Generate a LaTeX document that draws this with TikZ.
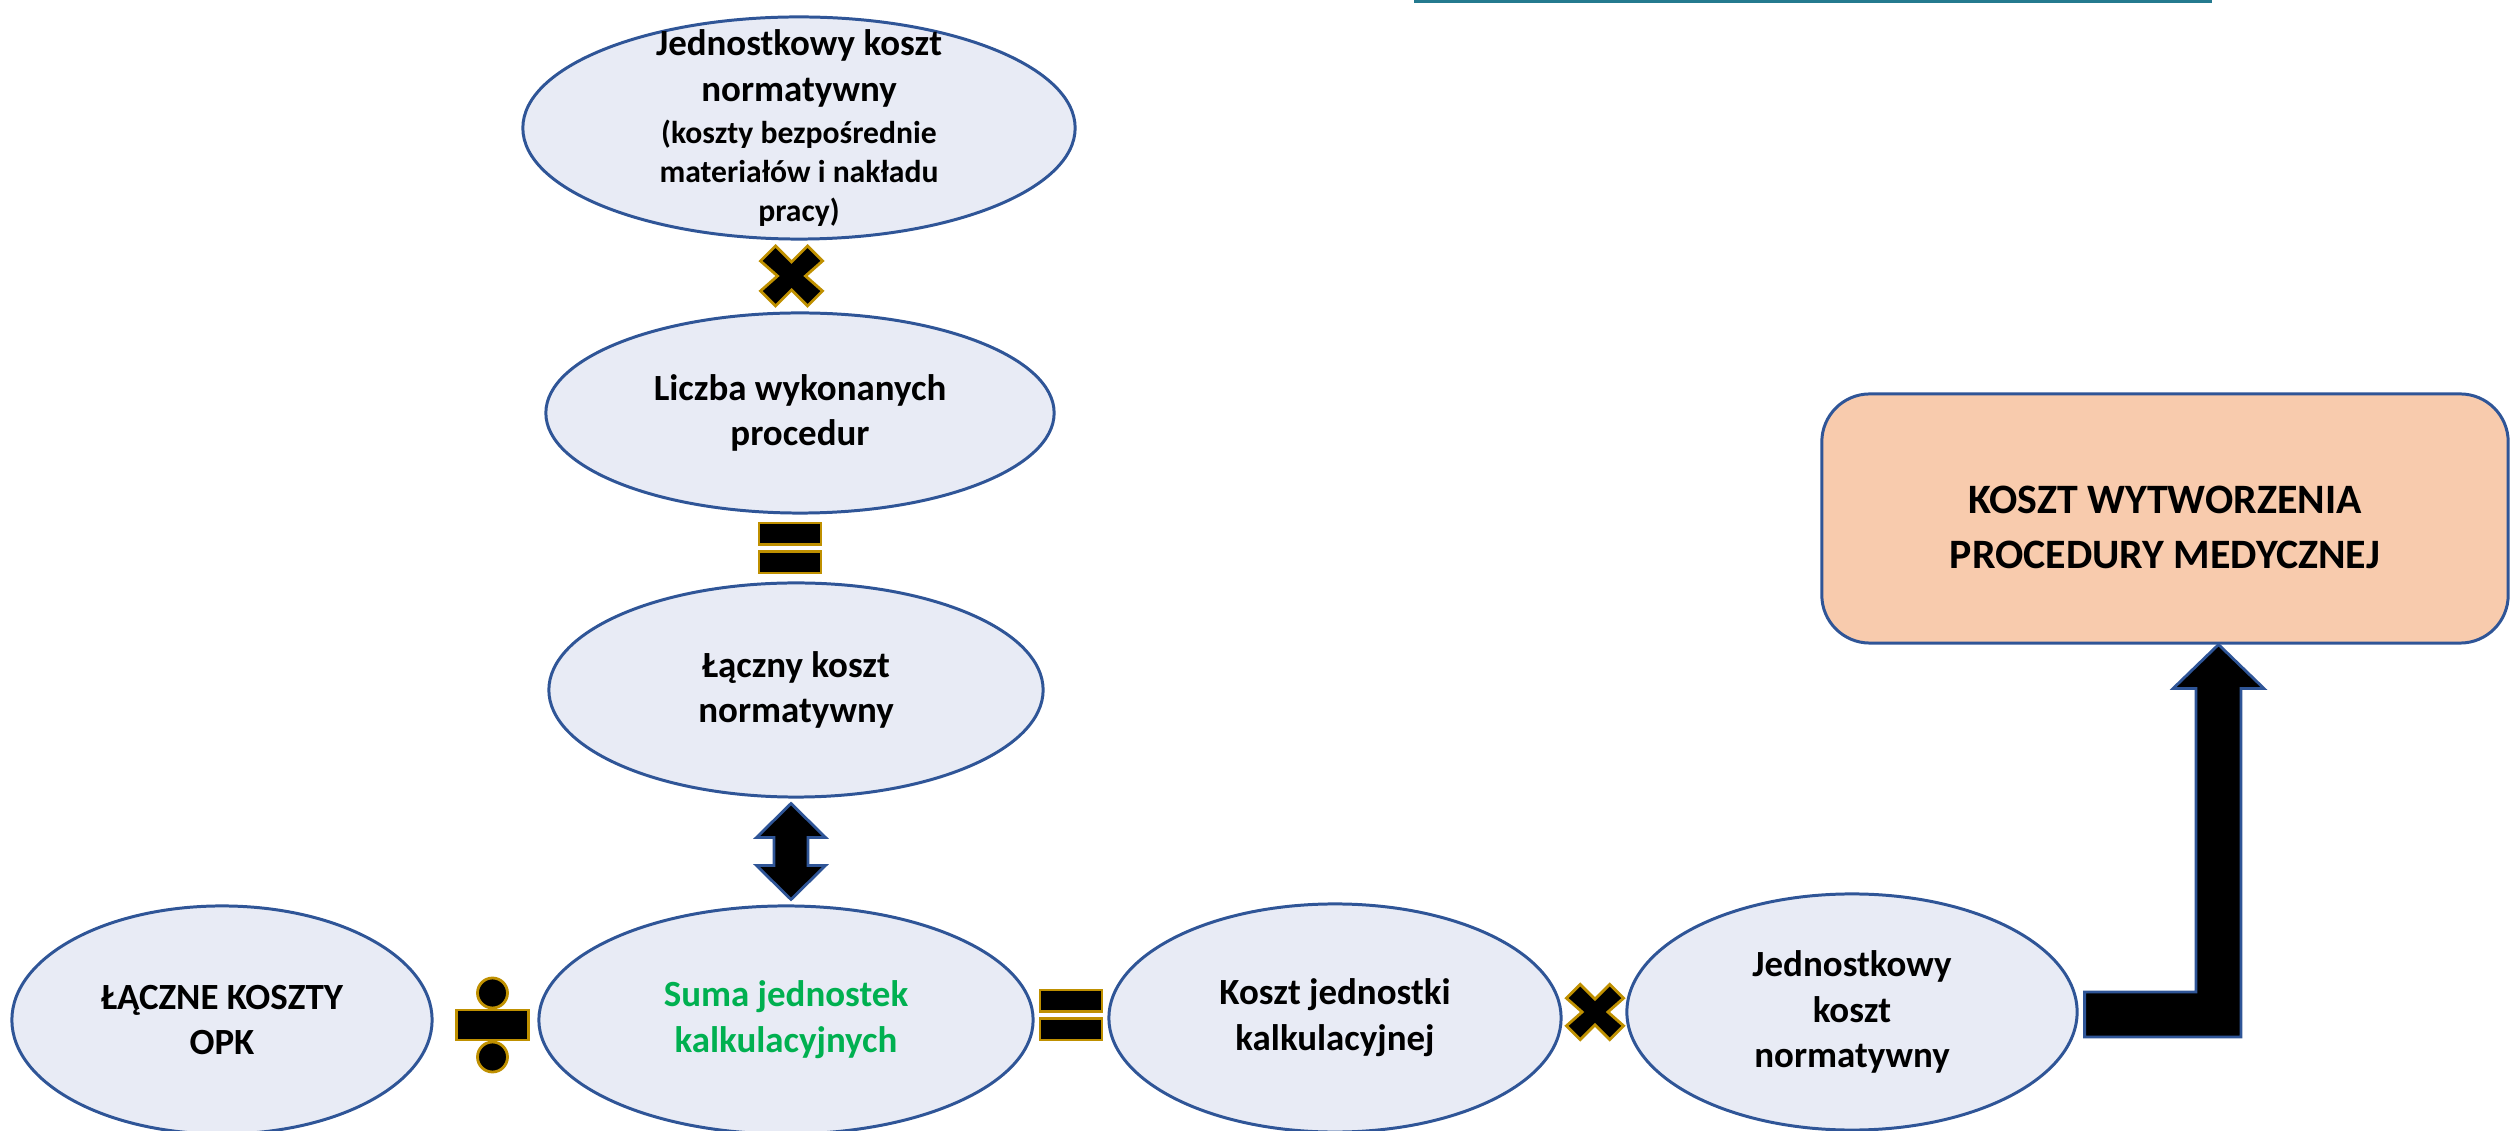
\documentclass[tikz,border=0pt]{standalone}
\usepackage{fontspec}
\setmainfont{Carlito}
\usetikzlibrary{shapes.geometric,calc}

\definecolor{ovalfill}{RGB}{232,235,245}
\definecolor{ovalline}{RGB}{47,85,151}
\definecolor{resultfill}{RGB}{248,203,173}
\definecolor{opgold}{RGB}{191,144,0}
\definecolor{sumgreen}{RGB}{0,176,80}
\definecolor{linkteal}{RGB}{36,122,143}

\newcommand\parenfont{\fontsize{9}{11}\selectfont}

\tikzset{
  oval/.style={ellipse, draw=ovalline, line width=0.85pt, fill=ovalfill,
    inner sep=-1.5cm, align=center, font=\fontsize{10.5}{13}\selectfont\bfseries},
  resultbox/.style={rectangle, rounded corners=0.48cm, draw=ovalline,
    line width=0.85pt, fill=resultfill, inner sep=0pt},
  resultlabel/.style={align=center, inner sep=0pt,
    font=\fontsize{11.9}{15.5}\selectfont\bfseries},
  opsign/.style={fill=black, draw=opgold, line width=0.8pt, line join=miter},
  blockarrow/.style={fill=black, draw=ovalline, line width=0.8pt, line join=miter},
  timessign/.pic={
    \path[opsign] (0,-14) -- (16,-30) -- (31,-15) -- (14,0) -- (31,15) -- (16,30)
      -- (0,14) -- (-16,30) -- (-31,15) -- (-14,0) -- (-31,-15) -- (-16,-30) -- cycle;
  },
  equalsign/.pic={
    \path[opsign] (-31,-25) rectangle (31,-3.5);
    \path[opsign] (-31,3.5) rectangle (31,25);
  },
  dividesign/.pic={
    \path[opsign] (-36,-15) rectangle (36,15);
    \path[opsign] (0,-32) circle (15);
    \path[opsign] (0,32) circle (15);
  },
  updownarrow/.pic={
    \path[blockarrow] (0,-48) -- (34.5,-14) -- (17,-14) -- (17,14) -- (34.5,14)
      -- (0,48) -- (-34.5,14) -- (-17,14) -- (-17,-14) -- (-34.5,-14) -- cycle;
  },
}

\begin{document}
\begin{tikzpicture}[x=0.01cm,y=-0.01cm]
\useasboundingbox (0,0) rectangle (2511,1131);

% underline of a link at the top edge
\fill[linkteal] (1414,0) rectangle (2212,3);

% left column
\node[oval, minimum width=5.52cm, minimum height=2.22cm] (unitcost) at (799,128)
  {Jednostkowy koszt\\normatywny\\[-1pt]{\parenfont (koszty bezpośrednie}\\[-2pt]{\parenfont materiałów i nakładu}\\[-2pt]{\parenfont pracy)}};
\node[oval, minimum width=5.08cm, minimum height=2.00cm] (count) at (800,413)
  {Liczba wykonanych\\procedur};
\node[oval, minimum width=4.94cm, minimum height=2.14cm] (totalnorm) at (796,690)
  {Łączny koszt\\normatywny};

% bottom row
\node[oval, minimum width=4.20cm, minimum height=2.28cm] (opk) at (222,1020)
  {ŁĄCZNE KOSZTY\\OPK};
\node[oval, minimum width=4.94cm, minimum height=2.28cm, text=sumgreen] (sum) at (786,1020)
  {Suma jednostek\\kalkulacyjnych};
\node[oval, minimum width=4.52cm, minimum height=2.28cm] (rate) at (1335,1018)
  {Koszt jednostki\\kalkulacyjnej};
\node[oval, minimum width=4.50cm, minimum height=2.36cm] (finalunit) at (1852,1012)
  {Jednostkowy\\koszt\\normatywny};

% result
\node[resultbox, minimum width=6.86cm, minimum height=2.49cm] (result) at (2165,518.5) {};
\node[resultlabel] (resulttext) at ($(result.center)+(0,9)$)
  {KOSZT WYTWORZENIA\\PROCEDURY MEDYCZNEJ};

% operators between the ovals
\pic at ($(unitcost.south)!0.5!(count.north)+(-8,0)$) {timessign};
\pic at ($(count.south)!0.5!(totalnorm.north)+(-8,0)$) {equalsign};
\pic at ($(opk.east)!0.5!(sum.west)+(7,5)$) {dividesign};
\pic at ($(sum.east)!0.5!(rate.west)+(0,-4)$) {equalsign};
\pic[scale=0.92] at ($(rate.east)!0.5!(finalunit.west)+(1,-3)$) {timessign};

% two-headed arrow between the total and the sum
\pic at ($(totalnorm.south)!0.5!(sum.north)$) {updownarrow};

% bent arrow into the result box
\coordinate (bendfrom) at ($(finalunit.east)+(6,2.5)$);
\coordinate (bendtip) at ($(result.south)+(53.5,0)$);
\coordinate (sl) at ($(bendtip)+(-22.5,44)$);
\coordinate (sr) at ($(bendtip)+(22.5,44)$);
\coordinate (hl) at ($(bendtip)+(-45.5,44)$);
\coordinate (hr) at ($(bendtip)+(45.5,44)$);
\coordinate (bt) at ($(bendfrom)+(0,-22.5)$);
\coordinate (bb) at ($(bendfrom)+(0,22.5)$);
\path[blockarrow] (bt) -- (bt -| sl) -- (sl) -- (hl) -- (bendtip) -- (hr)
  -- (sr) -- (sr |- bb) -- (bb) -- cycle;
\end{tikzpicture}
\end{document}
